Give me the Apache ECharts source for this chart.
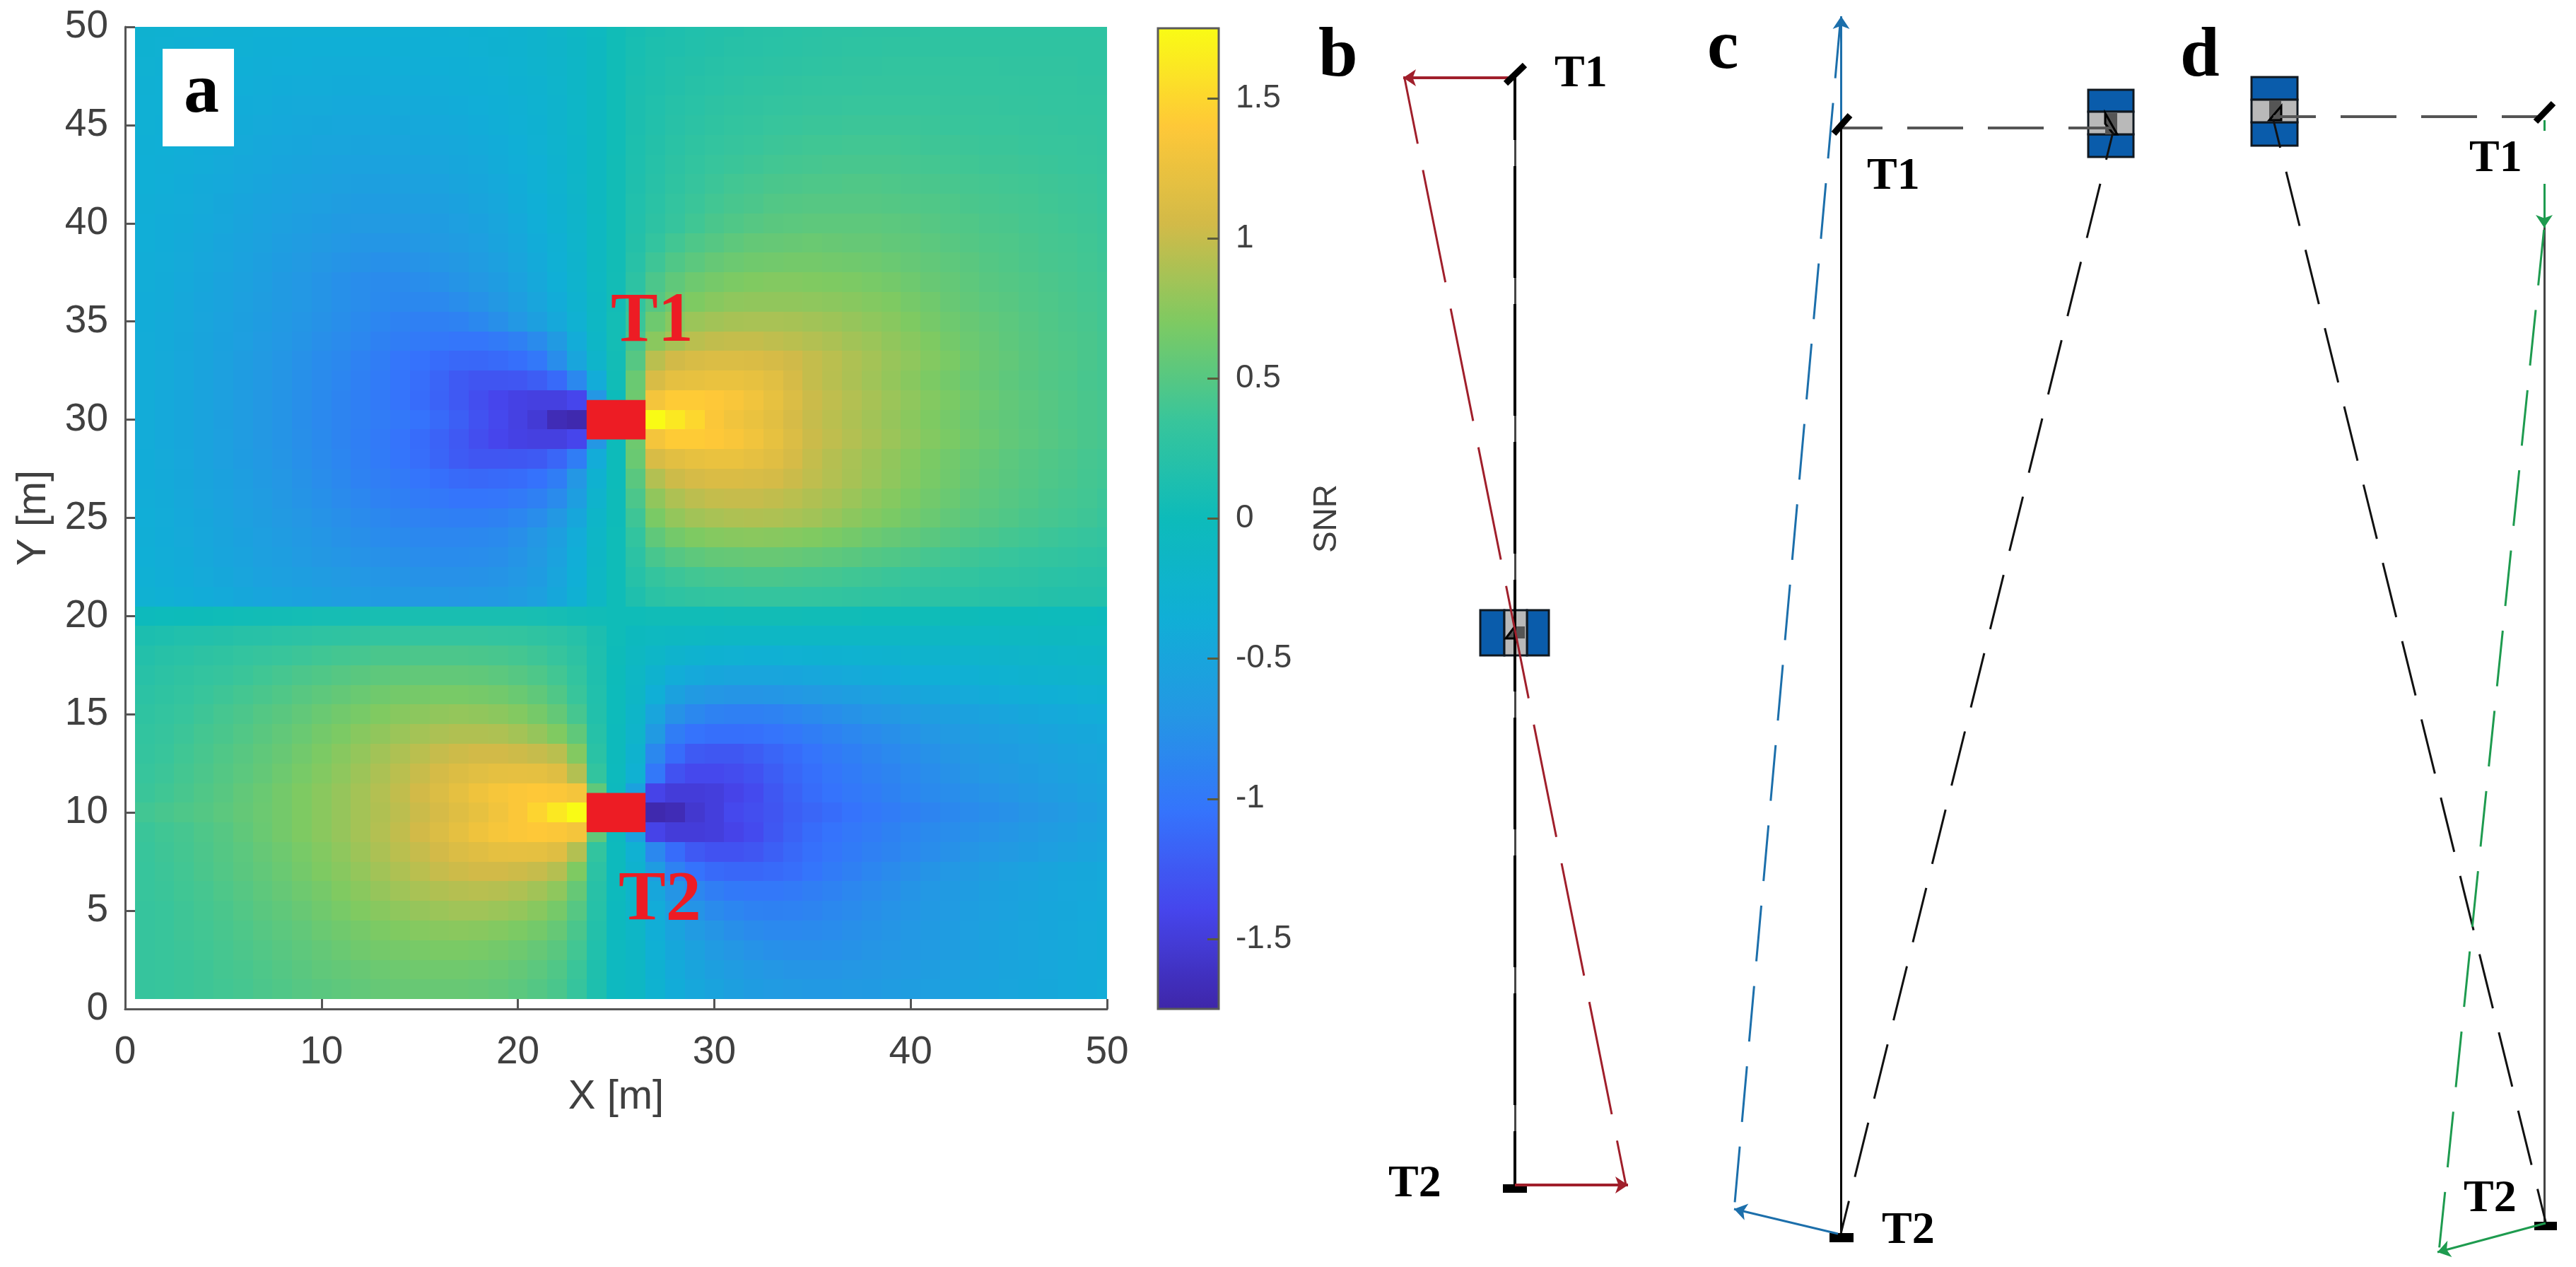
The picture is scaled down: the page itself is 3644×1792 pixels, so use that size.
<!DOCTYPE html>
<html>
<head>
<meta charset="utf-8">
<style>html,body{margin:0;padding:0;background:#fff}#c{width:3644px;height:1792px}</style>
<script src="https://cdn.jsdelivr.net/npm/echarts@6/dist/echarts.min.js"></script>
</head>
<body>
<div id="c"></div>
<script>
// ---------- DATA: panel a (cell centres, metres) ----------
const xCells=[1,2,3,4,5,6,7,8,9,10,11,12,13,14,15,16,17,18,19,20,21,22,23,24,25,26,27,28,29,30,31,32,33,34,35,36,37,38,39,40,41,42,43,44,45,46,47,48,49,50];
const yCells=[50,49,48,47,46,45,44,43,42,41,40,39,38,37,36,35,34,33,32,31,30,29,28,27,26,25,24,23,22,21,20,19,18,17,16,15,14,13,12,11,10,9,8,7,6,5,4,3,2,1];
const snrRows=[
[-.28,-.29,-.30,-.30,-.31,-.31,-.32,-.32,-.32,-.33,-.33,-.33,-.33,-.32,-.32,-.31,-.30,-.29,-.27,-.25,-.22,-.18,-.13,-.07,.03,.08,.11,.14,.16,.18,.19,.21,.22,.23,.24,.25,.25,.26,.26,.26,.27,.27,.27,.27,.27,.27,.27,.27,.27,.27],
[-.29,-.30,-.31,-.32,-.32,-.33,-.34,-.34,-.35,-.35,-.35,-.35,-.35,-.34,-.34,-.33,-.32,-.30,-.28,-.26,-.23,-.19,-.14,-.08,.03,.09,.13,.15,.17,.19,.21,.22,.23,.24,.25,.26,.27,.27,.28,.28,.28,.28,.28,.28,.28,.28,.28,.28,.28,.28],
[-.30,-.31,-.32,-.33,-.34,-.35,-.36,-.37,-.37,-.38,-.38,-.38,-.38,-.37,-.36,-.35,-.34,-.32,-.30,-.27,-.24,-.20,-.15,-.08,.03,.10,.14,.17,.19,.21,.23,.24,.25,.26,.27,.28,.29,.29,.30,.30,.30,.30,.30,.30,.29,.29,.29,.29,.28,.28],
[-.31,-.32,-.34,-.35,-.36,-.37,-.38,-.39,-.40,-.40,-.41,-.41,-.40,-.40,-.39,-.38,-.36,-.34,-.32,-.29,-.26,-.21,-.15,-.08,.03,.11,.15,.18,.21,.23,.25,.27,.28,.29,.30,.31,.31,.32,.32,.32,.32,.32,.31,.31,.31,.30,.30,.30,.29,.29],
[-.32,-.33,-.35,-.36,-.38,-.39,-.40,-.42,-.43,-.43,-.44,-.44,-.44,-.43,-.42,-.41,-.39,-.37,-.34,-.31,-.27,-.22,-.16,-.08,.03,.12,.16,.20,.23,.26,.28,.29,.31,.32,.33,.33,.34,.34,.34,.34,.34,.33,.33,.33,.32,.32,.31,.31,.30,.30],
[-.33,-.34,-.36,-.38,-.39,-.41,-.43,-.44,-.45,-.46,-.47,-.47,-.47,-.46,-.45,-.44,-.42,-.39,-.36,-.33,-.29,-.23,-.16,-.08,.03,.12,.17,.22,.25,.28,.30,.32,.34,.35,.36,.36,.37,.37,.37,.37,.36,.35,.35,.34,.34,.33,.33,.32,.32,.31],
[-.34,-.35,-.37,-.39,-.41,-.43,-.45,-.47,-.48,-.50,-.50,-.51,-.50,-.50,-.48,-.47,-.45,-.42,-.39,-.35,-.30,-.24,-.17,-.08,.03,.13,.19,.24,.28,.31,.33,.35,.37,.38,.39,.39,.40,.40,.40,.39,.38,.38,.37,.36,.36,.35,.34,.34,.33,.32],
[-.35,-.36,-.38,-.40,-.43,-.45,-.47,-.49,-.51,-.53,-.54,-.54,-.54,-.53,-.52,-.50,-.48,-.45,-.41,-.37,-.32,-.25,-.17,-.08,.04,.14,.20,.26,.30,.34,.36,.38,.40,.41,.42,.43,.43,.43,.43,.42,.41,.40,.39,.38,.38,.37,.36,.35,.34,.33],
[-.35,-.37,-.39,-.42,-.44,-.47,-.49,-.52,-.54,-.56,-.57,-.58,-.58,-.57,-.56,-.54,-.51,-.48,-.44,-.39,-.33,-.26,-.18,-.08,.04,.15,.22,.28,.33,.37,.40,.42,.44,.45,.46,.46,.47,.47,.46,.45,.44,.43,.42,.41,.40,.39,.38,.37,.36,.34],
[-.36,-.38,-.40,-.43,-.46,-.49,-.52,-.54,-.57,-.59,-.61,-.62,-.62,-.61,-.60,-.58,-.55,-.51,-.47,-.41,-.35,-.28,-.19,-.08,.04,.16,.24,.31,.36,.40,.43,.45,.48,.49,.50,.50,.50,.50,.49,.48,.47,.46,.44,.43,.42,.41,.39,.38,.37,.35],
[-.37,-.39,-.41,-.44,-.47,-.51,-.54,-.57,-.60,-.62,-.65,-.66,-.66,-.66,-.64,-.62,-.59,-.55,-.50,-.44,-.37,-.29,-.20,-.09,.04,.17,.26,.33,.39,.44,.47,.50,.52,.53,.54,.54,.54,.54,.53,.52,.50,.48,.47,.45,.44,.42,.41,.39,.38,.36],
[-.37,-.39,-.42,-.45,-.49,-.52,-.56,-.60,-.63,-.66,-.69,-.71,-.71,-.71,-.69,-.66,-.63,-.59,-.53,-.47,-.39,-.31,-.21,-.09,.04,.19,.31,.40,.46,.50,.54,.57,.58,.59,.60,.59,.58,.58,.56,.55,.53,.51,.49,.47,.46,.44,.42,.41,.39,.37],
[-.38,-.40,-.43,-.47,-.50,-.54,-.58,-.62,-.66,-.70,-.73,-.75,-.77,-.76,-.74,-.71,-.68,-.63,-.57,-.50,-.42,-.33,-.22,-.09,.04,.22,.38,.47,.53,.58,.61,.63,.64,.65,.65,.64,.63,.62,.60,.58,.56,.54,.52,.49,.47,.45,.43,.42,.40,.38],
[-.38,-.41,-.44,-.48,-.52,-.56,-.60,-.65,-.69,-.73,-.77,-.80,-.82,-.82,-.80,-.77,-.73,-.68,-.62,-.54,-.45,-.35,-.24,-.10,.05,.26,.45,.55,.62,.66,.69,.71,.72,.72,.71,.70,.69,.67,.65,.62,.59,.57,.54,.51,.49,.47,.45,.43,.41,.39],
[-.39,-.41,-.45,-.49,-.53,-.57,-.61,-.65,-.69,-.73,-.77,-.80,-.83,-.85,-.85,-.84,-.80,-.75,-.68,-.60,-.50,-.39,-.26,-.11,.05,.30,.50,.62,.70,.74,.77,.78,.78,.78,.77,.76,.74,.72,.70,.66,.63,.59,.56,.53,.51,.48,.46,.44,.42,.40],
[-.39,-.42,-.45,-.50,-.54,-.58,-.62,-.67,-.71,-.75,-.79,-.83,-.87,-.90,-.92,-.92,-.90,-.85,-.78,-.69,-.58,-.45,-.30,-.12,.06,.36,.62,.74,.82,.85,.87,.88,.88,.87,.85,.83,.80,.77,.74,.70,.66,.62,.59,.56,.53,.50,.47,.45,.43,.40],
[-.40,-.42,-.46,-.51,-.55,-.59,-.64,-.69,-.73,-.78,-.82,-.86,-.91,-.95,-.98,-1.0,-1.02,-1.02,-.98,-.92,-.82,-.65,-.40,-.15,.06,.42,.75,.87,.95,.98,.99,.99,.97,.95,.92,.89,.85,.82,.78,.74,.70,.65,.61,.58,.54,.51,.48,.46,.44,.41],
[-.40,-.43,-.47,-.51,-.56,-.61,-.66,-.71,-.76,-.81,-.85,-.90,-.95,-1.02,-1.06,-1.1,-1.13,-1.14,-1.12,-1.08,-1.0,-.8,-.5,-.2,.05,.50,.95,1.05,1.10,1.12,1.12,1.11,1.08,1.04,.99,.95,.90,.86,.81,.77,.72,.68,.63,.59,.56,.52,.49,.47,.44,.41],
[-.40,-.43,-.47,-.52,-.57,-.62,-.67,-.72,-.77,-.82,-.87,-.92,-.97,-1.03,-1.09,-1.16,-1.24,-1.28,-1.28,-1.27,-1.22,-1.12,-.85,-.4,.03,.60,1.10,1.20,1.22,1.24,1.24,1.22,1.17,1.08,.99,.94,.89,.84,.79,.74,.69,.65,.61,.58,.54,.51,.48,.46,.43,.41],
[-.40,-.44,-.48,-.52,-.57,-.63,-.68,-.73,-.78,-.83,-.88,-.93,-.98,-1.04,-1.1,-1.17,-1.25,-1.33,-1.40,-1.44,-1.46,-1.46,-1.4,-.7,.0,.62,1.32,1.42,1.42,1.40,1.36,1.30,1.22,1.12,1.02,.97,.92,.87,.82,.77,.72,.68,.64,.60,.56,.53,.50,.47,.44,.42],
[-.40,-.44,-.48,-.53,-.58,-.63,-.68,-.73,-.79,-.84,-.88,-.92,-.96,-1.0,-1.05,-1.12,-1.2,-1.3,-1.38,-1.45,-1.52,-1.68,-1.72,-1.0,.0,.60,1.75,1.62,1.50,1.38,1.30,1.24,1.18,1.08,1.00,.95,.90,.85,.80,.75,.70,.66,.62,.58,.55,.52,.49,.46,.44,.42],
[-.40,-.44,-.48,-.52,-.57,-.63,-.68,-.73,-.78,-.83,-.88,-.93,-.98,-1.04,-1.1,-1.17,-1.25,-1.33,-1.40,-1.44,-1.46,-1.46,-1.4,-.7,.0,.62,1.32,1.42,1.42,1.40,1.36,1.30,1.22,1.12,1.02,.97,.92,.87,.82,.77,.72,.68,.64,.60,.56,.53,.50,.47,.44,.42],
[-.39,-.43,-.47,-.52,-.57,-.62,-.67,-.72,-.77,-.82,-.87,-.92,-.97,-1.03,-1.09,-1.16,-1.23,-1.27,-1.27,-1.26,-1.24,-1.15,-.95,-.4,.0,.60,1.10,1.18,1.22,1.24,1.24,1.21,1.16,1.08,.99,.93,.88,.83,.78,.73,.68,.64,.60,.57,.53,.50,.47,.45,.42,.40],
[-.39,-.42,-.46,-.51,-.55,-.60,-.65,-.70,-.75,-.80,-.85,-.90,-.94,-.98,-1.03,-1.08,-1.12,-1.13,-1.12,-1.1,-1.06,-.95,-.7,-.28,.0,.52,.92,1.03,1.08,1.11,1.11,1.10,1.07,1.02,.97,.92,.87,.82,.77,.72,.67,.63,.59,.55,.52,.49,.46,.44,.41,.39],
[-.38,-.41,-.45,-.50,-.54,-.59,-.63,-.68,-.73,-.77,-.82,-.86,-.90,-.93,-.97,-1.0,-1.03,-1.03,-1.02,-.98,-.92,-.82,-.6,-.22,.01,.45,.78,.90,.96,.99,1.00,1.0,.98,.95,.91,.87,.82,.77,.73,.68,.64,.60,.56,.53,.50,.47,.44,.42,.40,.37],
[-.37,-.40,-.44,-.48,-.53,-.57,-.61,-.66,-.70,-.74,-.78,-.82,-.85,-.88,-.90,-.92,-.93,-.93,-.91,-.87,-.8,-.68,-.48,-.17,.01,.38,.68,.79,.85,.88,.90,.91,.90,.88,.85,.81,.76,.72,.68,.64,.60,.56,.53,.50,.47,.44,.42,.40,.38,.35],
[-.36,-.39,-.43,-.47,-.51,-.55,-.59,-.63,-.67,-.71,-.75,-.78,-.81,-.83,-.85,-.86,-.86,-.85,-.83,-.78,-.7,-.58,-.40,-.15,.02,.30,.55,.65,.70,.73,.74,.75,.74,.73,.71,.68,.65,.61,.58,.55,.52,.49,.46,.44,.41,.39,.37,.35,.33,.31],
[-.35,-.38,-.41,-.45,-.49,-.53,-.57,-.60,-.64,-.68,-.71,-.74,-.76,-.78,-.8,-.81,-.81,-.8,-.78,-.73,-.66,-.54,-.37,-.14,.02,.25,.43,.50,.54,.57,.58,.59,.59,.58,.56,.54,.52,.49,.47,.45,.42,.40,.38,.36,.34,.32,.30,.29,.27,.26],
[-.33,-.36,-.39,-.43,-.46,-.5,-.54,-.57,-.6,-.63,-.66,-.69,-.71,-.73,-.75,-.76,-.76,-.75,-.73,-.69,-.62,-.5,-.35,-.13,.02,.20,.32,.37,.40,.42,.43,.44,.44,.43,.42,.41,.39,.38,.36,.34,.33,.31,.30,.28,.27,.26,.24,.23,.22,.21],
[-.30,-.33,-.36,-.39,-.42,-.46,-.49,-.52,-.55,-.58,-.61,-.63,-.65,-.67,-.68,-.69,-.7,-.69,-.67,-.63,-.57,-.46,-.31,-.12,.02,.15,.24,.27,.29,.30,.31,.32,.32,.32,.31,.30,.29,.28,.27,.26,.25,.24,.23,.22,.21,.20,.19,.18,.18,.17],
[-.02,-.01,.0,.01,.02,.03,.04,.05,.06,.07,.07,.08,.09,.09,.1,.1,.1,.1,.1,.1,.09,.07,.05,.03,.02,.02,.03,.03,.03,.03,.04,.04,.04,.04,.03,.03,.03,.02,.02,.02,.02,.01,.01,.0,.0,.0,-.01,-.01,-.01,-.02],
[.12,.14,.16,.17,.19,.21,.22,.24,.25,.27,.28,.29,.30,.31,.31,.32,.32,.32,.31,.30,.28,.25,.20,.12,.02,-.05,-.07,-.09,-.10,-.11,-.12,-.12,-.13,-.13,-.13,-.13,-.13,-.12,-.12,-.12,-.11,-.11,-.10,-.10,-.09,-.09,-.08,-.08,-.07,-.07],
[.18,.21,.23,.26,.28,.31,.33,.35,.37,.39,.41,.42,.44,.44,.45,.45,.45,.44,.43,.41,.38,.33,.26,.14,.01,-.09,-.16,-.22,-.26,-.29,-.30,-.31,-.31,-.30,-.29,-.28,-.27,-.26,-.25,-.24,-.23,-.22,-.21,-.20,-.19,-.18,-.17,-.16,-.15,-.14],
[.22,.25,.28,.31,.33,.36,.39,.42,.45,.47,.50,.52,.54,.55,.56,.56,.56,.55,.53,.50,.46,.40,.30,.15,.0,-.12,-.25,-.38,-.44,-.48,-.50,-.50,-.50,-.49,-.47,-.45,-.43,-.41,-.39,-.37,-.35,-.33,-.31,-.29,-.27,-.25,-.24,-.22,-.21,-.2],
[.25,.28,.31,.35,.38,.41,.44,.47,.51,.54,.57,.60,.63,.65,.66,.67,.67,.66,.64,.60,.55,.47,.35,.16,-.01,-.14,-.35,-.55,-.65,-.70,-.72,-.72,-.71,-.69,-.66,-.63,-.60,-.57,-.54,-.51,-.48,-.45,-.43,-.41,-.38,-.36,-.34,-.32,-.30,-.29],
[.28,.31,.34,.38,.42,.45,.49,.52,.56,.60,.64,.67,.71,.74,.76,.78,.79,.78,.76,.72,.66,.57,.42,.17,-.01,-.17,-.50,-.75,-.85,-.90,-.92,-.92,-.90,-.87,-.83,-.79,-.75,-.71,-.68,-.64,-.61,-.58,-.55,-.52,-.49,-.46,-.44,-.42,-.40,-.38],
[.30,.33,.37,.41,.44,.48,.52,.56,.60,.65,.69,.74,.78,.82,.86,.89,.91,.91,.90,.86,.80,.71,.55,.2,-.02,-.2,-.65,-.95,-1.05,-1.08,-1.08,-1.07,-1.04,-1.0,-.95,-.9,-.86,-.82,-.78,-.74,-.7,-.66,-.63,-.6,-.57,-.54,-.51,-.48,-.46,-.44],
[.32,.35,.39,.43,.47,.51,.55,.59,.64,.69,.74,.79,.85,.90,.95,1.0,1.03,1.05,1.05,1.03,1.0,.95,.72,.24,-.03,-.25,-.85,-1.1,-1.24,-1.26,-1.26,-1.22,-1.16,-1.1,-1.04,-.98,-.93,-.88,-.84,-.8,-.76,-.72,-.68,-.65,-.62,-.59,-.56,-.53,-.5,-.48],
[.34,.37,.41,.45,.49,.53,.57,.62,.67,.72,.77,.83,.89,.95,1.01,1.07,1.13,1.17,1.2,1.21,1.2,1.15,.92,.3,-.04,-.3,-1.0,-1.3,-1.38,-1.38,-1.35,-1.3,-1.22,-1.14,-1.08,-1.02,-.97,-.92,-.88,-.84,-.8,-.76,-.72,-.69,-.66,-.62,-.59,-.56,-.53,-.5],
[.36,.39,.43,.47,.51,.56,.60,.65,.70,.75,.80,.86,.92,.98,1.05,1.12,1.2,1.28,1.34,1.38,1.4,1.38,1.32,.55,-.05,-.55,-1.42,-1.5,-1.5,-1.48,-1.42,-1.36,-1.26,-1.18,-1.1,-1.05,-1.0,-.96,-.91,-.87,-.83,-.8,-.77,-.74,-.71,-.67,-.63,-.6,-.56,-.53],
[.40,.43,.46,.49,.53,.57,.61,.65,.70,.75,.80,.86,.91,.96,1.02,1.08,1.15,1.22,1.30,1.38,1.48,1.62,1.75,.6,-.05,-.6,-1.72,-1.68,-1.55,-1.48,-1.38,-1.33,-1.28,-1.2,-1.15,-1.1,-1.05,-1.0,-.96,-.92,-.88,-.85,-.82,-.79,-.76,-.72,-.68,-.64,-.6,-.56],
[.36,.39,.42,.46,.5,.55,.6,.65,.7,.75,.8,.86,.92,.98,1.05,1.12,1.2,1.28,1.34,1.38,1.4,1.38,1.32,.55,-.05,-.55,-1.42,-1.5,-1.5,-1.48,-1.42,-1.36,-1.26,-1.18,-1.1,-1.05,-1.0,-.96,-.91,-.87,-.83,-.8,-.77,-.74,-.71,-.67,-.63,-.6,-.56,-.53],
[.35,.38,.41,.45,.49,.53,.58,.62,.67,.72,.77,.83,.89,.95,1.0,1.06,1.12,1.16,1.2,1.21,1.2,1.15,.92,.3,-.04,-.3,-.85,-1.1,-1.25,-1.3,-1.3,-1.27,-1.2,-1.13,-1.07,-1.02,-.97,-.92,-.88,-.84,-.8,-.76,-.72,-.69,-.66,-.62,-.59,-.56,-.53,-.5],
[.34,.37,.4,.44,.48,.52,.56,.6,.65,.7,.74,.79,.85,.9,.95,1.0,1.03,1.05,1.05,1.03,1.0,.93,.7,.25,-.04,-.25,-.62,-.9,-1.05,-1.12,-1.14,-1.14,-1.12,-1.09,-1.03,-.97,-.92,-.87,-.82,-.78,-.73,-.69,-.65,-.61,-.57,-.54,-.51,-.48,-.46,-.44],
[.34,.36,.39,.42,.46,.5,.54,.58,.62,.66,.71,.75,.8,.84,.88,.91,.93,.94,.93,.9,.85,.77,.58,.22,-.04,-.2,-.48,-.72,-.86,-.94,-.99,-1.0,-1.0,-.98,-.94,-.9,-.86,-.82,-.78,-.73,-.69,-.65,-.62,-.58,-.55,-.52,-.49,-.47,-.45,-.43],
[.33,.35,.38,.41,.44,.48,.52,.55,.59,.63,.67,.71,.74,.77,.8,.82,.84,.84,.82,.79,.74,.66,.5,.2,-.05,-.17,-.4,-.6,-.73,-.82,-.87,-.9,-.91,-.9,-.88,-.85,-.82,-.78,-.74,-.71,-.67,-.64,-.6,-.57,-.54,-.51,-.48,-.46,-.44,-.42],
[.33,.35,.38,.4,.43,.46,.5,.53,.56,.6,.63,.66,.69,.71,.73,.74,.75,.74,.72,.69,.65,.58,.44,.18,-.05,-.15,-.36,-.52,-.64,-.72,-.78,-.82,-.84,-.84,-.83,-.81,-.78,-.75,-.72,-.69,-.65,-.62,-.59,-.56,-.53,-.5,-.48,-.45,-.43,-.41],
[.33,.35,.37,.39,.42,.45,.48,.51,.54,.57,.6,.63,.65,.66,.67,.68,.68,.67,.65,.62,.58,.52,.4,.16,-.06,-.14,-.32,-.46,-.56,-.64,-.7,-.74,-.77,-.78,-.78,-.77,-.75,-.72,-.7,-.67,-.64,-.61,-.58,-.55,-.52,-.5,-.47,-.45,-.43,-.41],
[.33,.34,.36,.38,.41,.43,.46,.49,.52,.55,.57,.59,.61,.62,.63,.63,.63,.62,.6,.57,.53,.47,.36,.15,-.07,-.13,-.29,-.42,-.51,-.58,-.63,-.67,-.7,-.72,-.72,-.72,-.7,-.68,-.66,-.64,-.61,-.59,-.56,-.54,-.51,-.49,-.47,-.44,-.42,-.41],
[.33,.34,.36,.38,.4,.42,.45,.47,.5,.52,.54,.56,.58,.59,.59,.59,.59,.58,.56,.53,.49,.44,.33,.14,-.07,-.12,-.27,-.39,-.47,-.53,-.58,-.62,-.64,-.66,-.67,-.67,-.66,-.65,-.63,-.61,-.59,-.57,-.54,-.52,-.5,-.48,-.46,-.44,-.42,-.4]
];
const transmitterCells=[[23.5,29,26.5,31],[23.5,9,26.5,11]];
const colorbarTicks=[-1.5,-1,-0.5,0,0.5,1,1.5];

// ---------- DATA: schematic panels b, c, d (units of the page-sized hidden axes) ----------
const mirrorSegments=[[[2130,118],[2157,92]],[[2594,189],[2617,163]],[[3587,172],[3612,146]]];
const receiverBars=[[2126,1675,2160,1687],[2588,1744,2622,1757],[3585,1728,3617,1740]];
const robotBlue=[[2094,863,2128,927],[2160,863,2191,927],[2954,127,3018,158],[2954,190,3018,222],[3185,109,3250,141],[3185,173,3250,206]];
const robotGrey=[[2128,863,2160,927],[2954,158,3018,190],[3185,141,3250,173]];
const robotDark=[[2143,886,2157,903],[2978,160,2995,190],[3210,142,3227,170]];
const robotWedges=[[[2130,903],[2143,886],[2143,903]],[[2978,160],[2978,175],[2990,190],[2995,190]],[[3210,170],[3227,150],[3227,170]]];
const bSolid=[[[2143,110],[2143,1677]]];
const bDashed=[[[2143,110],[2143,1677]]];
const bRedArrows=[[[2143,110],[1985,110]],[[2143,1676],[2303,1676]]];
const bRedDashed=[[[1987,111],[2300,1676]]];
const cSolid=[[[2604.5,180],[2604.5,1745]]];
const cBlueArrows=[[[2604.5,175],[2604.5,23]],[[2600,1745],[2453,1710]]];
const cBlueDashed=[[[2604,23],[2453,1712]]];
const cBeamDashed=[[[2604,181],[2987,181]]];
const cReturnDashed=[[[2989,187],[2604,1745]]];
const dSolid=[[[3599,322],[3599,1730]]];
const dGreenArrows=[[[3599,260],[3599,322]],[[3601,1730],[3448,1771]]];
const dGreenStub=[[[3599,170],[3599,185]]];
const dGreenDashed=[[[3599,322],[3450,1771]]];
const dBeamDashed=[[[3216,165],[3591,165]]];
const dReturnDashed=[[[3216,170],[3601,1728]]];

const panelLetters=[['a',260,160],['b',1865,109],['c',2415,98],['d',3084,109]];
const redLabels=[['T1',864,484],['T2',875,1302]];
const blackLabels=[['T1',2199,123],['T2',1964,1693],['T1',2641,268],['T2',2662,1759],['T1',3493,243],['T2',3485,1714]];

// ---------- STYLE ----------
const parula=['#3E26A8','#4645EC','#3573FC','#2497E4','#10AFD6','#0DBBBA','#38C59B','#7ECA62','#D2BA48','#FEC838','#F9FB15'];
const SANS='"Liberation Sans", Arial, sans-serif', SERIF='"Liberation Serif", "Times New Roman", serif';
const AX='#555555', TXT='#404040', RED='#A01F2B', BLUE='#1C6FAB', GREEN='#1E9B4F', TRED='#ED1C24';
const PAGE={xAxisIndex:2,yAxisIndex:2};

const heatData=[];
yCells.forEach((y,i)=>xCells.forEach((x,j)=>heatData.push([x,y,snrRows[i][j]])));

function heatItem(p,api){
  const c=p.coordSys, x=api.value(0), y=api.value(1);
  const a=api.coord([x-.5,y+.5]), b=api.coord([x+.5,y-.5]);
  const r=echarts.graphic.clipRectByRect({x:Math.round(a[0]),y:Math.round(a[1]),width:Math.round(b[0])-Math.round(a[0]),height:Math.round(b[1])-Math.round(a[1])},{x:c.x,y:c.y,width:c.width,height:c.height});
  return r&&{type:'rect',shape:r,style:{fill:api.visual('color')}};
}
function boxSeries(data,style,axes,z){
  return Object.assign({type:'custom',coordinateSystem:'cartesian2d',silent:true,z:z,clip:false,data:data,
    encode:{x:[0,2],y:[1,3]},
    renderItem(p,api){
      const a=api.coord([api.value(0),api.value(1)]), b=api.coord([api.value(2),api.value(3)]);
      return {type:'rect',shape:{x:Math.min(a[0],b[0]),y:Math.min(a[1],b[1]),width:Math.abs(b[0]-a[0]),height:Math.abs(b[1]-a[1])},style:style};
    }},axes);
}
function polySeries(polys,style,z){
  return Object.assign({type:'custom',coordinateSystem:'cartesian2d',silent:true,z:z,clip:false,
    data:polys.map((_,i)=>[i]),encode:{x:-1,y:-1},
    renderItem(p,api){return {type:'polygon',shape:{points:polys[api.value(0)].map(q=>api.coord(q))},style:style};}},PAGE);
}
function strokes(segs,color,width,dash,offset,arrow,z){
  return Object.assign({type:'lines',coordinateSystem:'cartesian2d',silent:true,z:z||6,clip:false,
    polyline:false,symbol:arrow?['none','arrow']:['none','none'],symbolSize:arrow?18:0,
    lineStyle:{color:color,width:width,opacity:1,curveness:0,type:dash||'solid',dashOffset:offset||0,cap:'butt'},
    data:segs.map(s=>({coords:s}))},PAGE);
}
function texts(list,font,fill,size){
  return list.map(t=>({type:'text',x:t[1],y:t[2]-0.28*size,z:100,silent:true,
    style:{text:t[0],font:'bold '+size+'px '+font,fill:fill,textAlign:'left',textVerticalAlign:'middle'}}));
}

const option={
  animation:false,
  backgroundColor:'#fff',
  grid:[
    {left:177,top:38,width:1389,height:1389,containLabel:false},
    {left:1638,top:40,width:86,height:1387,containLabel:false,show:true,borderColor:'#5a5a5a',borderWidth:3,backgroundColor:'transparent',z:10},
    {left:0,top:0,width:3644,height:1792,containLabel:false}
  ],
  xAxis:[
    {gridIndex:0,type:'value',min:0,max:50,interval:10,name:'X [m]',nameLocation:'middle',nameGap:96,
      nameTextStyle:{fontFamily:SANS,fontSize:58,color:TXT},
      axisLine:{show:true,onZero:false,lineStyle:{color:AX,width:3}},axisTick:{show:true,inside:true,length:14,lineStyle:{color:AX,width:3}},
      axisLabel:{fontFamily:SANS,fontSize:55,color:TXT,margin:34,hideOverlap:false,showMinLabel:true,showMaxLabel:true},splitLine:{show:false}},
    {gridIndex:1,type:'value',min:0,max:1,show:false},
    {gridIndex:2,type:'value',min:0,max:3644,show:false}
  ],
  yAxis:[
    {gridIndex:0,type:'value',min:0,max:50,interval:5,name:'Y [m]',nameLocation:'middle',nameGap:100,nameRotate:90,
      nameTextStyle:{fontFamily:SANS,fontSize:58,color:TXT},
      axisLine:{show:true,onZero:false,lineStyle:{color:AX,width:3}},axisTick:{show:true,inside:true,length:14,lineStyle:{color:AX,width:3}},
      axisLabel:{fontFamily:SANS,fontSize:55,color:TXT,margin:24,hideOverlap:false,showMinLabel:true,showMaxLabel:true},splitLine:{show:false}},
    {gridIndex:1,type:'value',min:-1.75,max:1.75,position:'right',z:12,name:'SNR',nameLocation:'middle',nameGap:130,nameRotate:90,
      nameTextStyle:{fontFamily:SANS,fontSize:46,color:TXT},
      axisLine:{show:false,onZero:false},axisTick:{show:true,inside:true,length:16,customValues:colorbarTicks,lineStyle:{color:'#5a5a3a',width:3}},
      axisLabel:{fontFamily:SANS,fontSize:46,color:TXT,margin:24,customValues:colorbarTicks,formatter:v=>String(v)},splitLine:{show:false}},
    {gridIndex:2,type:'value',min:0,max:1792,inverse:true,show:false}
  ],
  visualMap:[{type:'continuous',seriesIndex:0,dimension:2,min:-1.75,max:1.75,calculable:false,hoverLink:false,
    left:1638,top:40,itemWidth:86,itemHeight:1387,padding:0,showLabel:false,text:null,z:1,
    inRange:{color:parula}}],
  series:[
    {type:'custom',name:'SNR',coordinateSystem:'cartesian2d',xAxisIndex:0,yAxisIndex:0,silent:true,z:2,progressive:0,
      data:heatData,encode:{x:0,y:1},renderItem:heatItem},
    boxSeries(transmitterCells,{fill:TRED},{xAxisIndex:0,yAxisIndex:0},3),
    boxSeries(robotBlue,{fill:'#0A5CAB',stroke:'#101820',lineWidth:3},PAGE,4),
    boxSeries(robotGrey,{fill:'#B9B9B9',stroke:'#101820',lineWidth:3},PAGE,4),
    boxSeries(robotDark,{fill:'#555555'},PAGE,5),
    polySeries(robotWedges,{fill:'#555555',stroke:'#000',lineWidth:3},5),
    boxSeries(receiverBars,{fill:'#000'},PAGE,7),
    strokes(mirrorSegments,'#000',9,null,0,false,8),
    strokes(bSolid,'#444',3,null,0,false,5),
    strokes(bDashed,'#000',4,[158,37],70,false,6),
    strokes(bRedArrows,RED,4,null,0,true,7),
    strokes(bRedDashed,RED,3,[162,38],68,false,7),
    strokes(cSolid,'#000',3,null,0,false,5),
    strokes(cBlueArrows,BLUE,3,null,0,true,7),
    strokes(cBlueDashed,BLUE,3,[79,35],105,false,7),
    strokes(cBeamDashed,'#555',4,[79,35],20,false,6),
    strokes(cReturnDashed,'#111',3,[79,35],39,false,6),
    strokes(dSolid,'#444',3,null,0,false,5),
    strokes(dGreenArrows,GREEN,3,null,0,true,7),
    strokes(dGreenStub,GREEN,3,null,0,false,7),
    strokes(dGreenDashed,GREEN,3,[79,35],111,false,7),
    strokes(dBeamDashed,'#555',4,[79,35],19,false,6),
    strokes(dReturnDashed,'#111',3,[79,35],39,false,6)
  ],
  graphic:{elements:[
    {type:'rect',z:99,silent:true,shape:{x:230,y:69,width:101,height:138},style:{fill:'#fff'}},
    ...texts(panelLetters,SERIF,'#000',100),
    ...texts(redLabels,SERIF,TRED,100),
    ...texts(blackLabels,SERIF,'#000',64)
  ]}
};
const chart=echarts.init(document.getElementById('c'),null,{renderer:'canvas'});
chart.setOption(option);
</script>
</body>
</html>
